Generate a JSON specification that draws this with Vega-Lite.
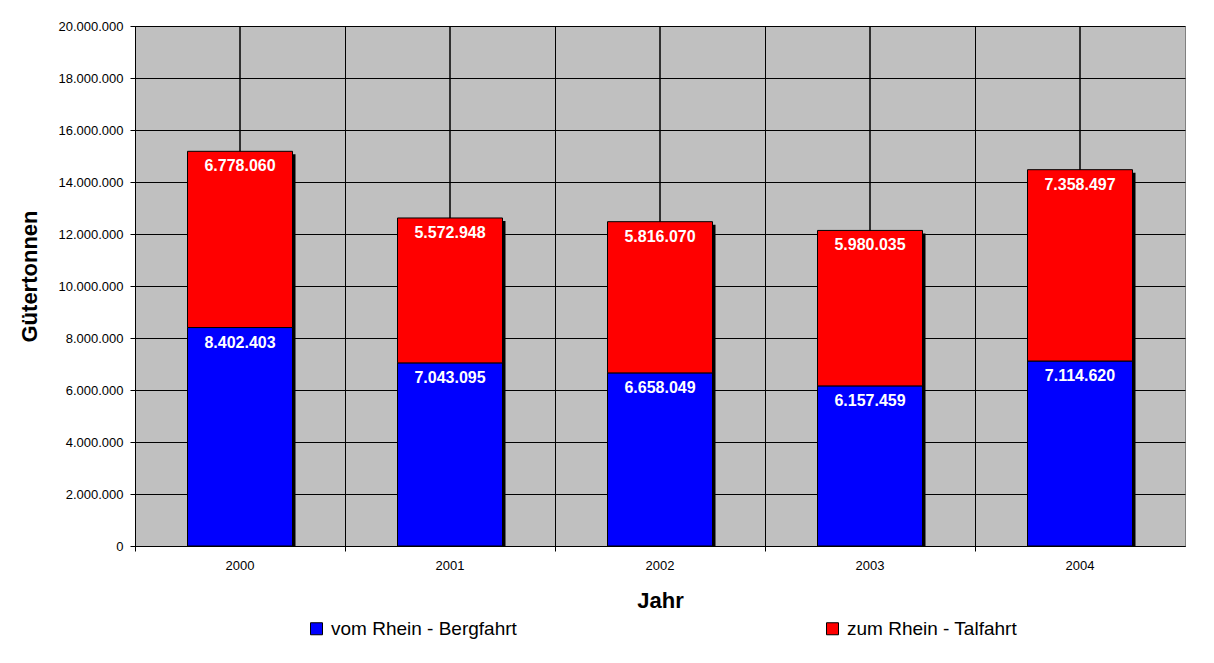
{
  "$schema": "https://vega.github.io/schema/vega-lite/v6.json",
  "width": 1050,
  "height": 520,
  "autosize": {"type": "none"},
  "padding": {"left": 135, "top": 26, "right": 29, "bottom": 117},
  "background": "#FFFFFF",
  "config": {
    "locale": {"number": {"decimal": ",", "thousands": ".", "grouping": [3], "currency": ["", " €"]}},
    "font": "Liberation Sans",
    "view": {"fill": "#C0C0C0", "stroke": "#808080", "strokeWidth": 1}
  },
  "data": {
    "values": [
      {"year": "2000", "series": "vom Rhein - Bergfahrt", "value": 8402403},
      {"year": "2000", "series": "zum Rhein - Talfahrt", "value": 6778060},
      {"year": "2001", "series": "vom Rhein - Bergfahrt", "value": 7043095},
      {"year": "2001", "series": "zum Rhein - Talfahrt", "value": 5572948},
      {"year": "2002", "series": "vom Rhein - Bergfahrt", "value": 6658049},
      {"year": "2002", "series": "zum Rhein - Talfahrt", "value": 5816070},
      {"year": "2003", "series": "vom Rhein - Bergfahrt", "value": 6157459},
      {"year": "2003", "series": "zum Rhein - Talfahrt", "value": 5980035},
      {"year": "2004", "series": "vom Rhein - Bergfahrt", "value": 7114620},
      {"year": "2004", "series": "zum Rhein - Talfahrt", "value": 7358497}
    ]
  },
  "transform": [
    {"stack": "value", "groupby": ["year"], "sort": [{"field": "series", "order": "ascending"}], "as": ["v0", "v1"]}
  ],
  "encoding": {
    "x": {
      "field": "year",
      "type": "nominal",
      "scale": {"type": "band", "paddingInner": 0, "paddingOuter": 0},
      "axis": {
        "title": "Jahr",
        "titleFont": "Liberation Sans",
        "titleFontSize": 22,
        "titleFontWeight": "bold",
        "titleColor": "#000000",
        "titleY": 54,
        "titleBaseline": "middle",
        "labelAngle": 0,
        "labelFont": "Liberation Sans",
        "labelFontSize": 13,
        "labelColor": "#000000",
        "labelPadding": 8,
        "bandPosition": 0,
        "ticks": true,
        "tickSize": 5,
        "tickColor": "#000000",
        "domainColor": "#000000",
        "grid": true,
        "gridColor": "#000000",
        "gridOpacity": 1
      }
    }
  },
  "layer": [
    {
      "mark": {"type": "rule", "color": "#000000", "strokeWidth": 1},
      "encoding": {}
    },
    {
      "transform": [{"aggregate": [{"op": "sum", "field": "value", "as": "total"}], "groupby": ["year"]}],
      "mark": {"type": "bar", "color": "#000000", "xOffset": 3, "yOffset": 3, "clip": true, "width": {"band": 0.5}},
      "encoding": {
        "y": {"field": "total", "type": "quantitative", "scale": {"domain": [0, 20000000]}}
      }
    },
    {
      "mark": {"type": "bar", "stroke": "#000000", "strokeWidth": 1, "width": {"band": 0.5}},
      "encoding": {
        "y": {
          "field": "v0",
          "type": "quantitative",
          "scale": {"domain": [0, 20000000]},
          "axis": {
            "title": "Gütertonnen",
            "titleFont": "Liberation Sans",
            "titleFontSize": 22,
            "titleFontWeight": "bold",
            "titleColor": "#000000",
            "titleX": -106,
            "titleY": 250,
            "titleBaseline": "middle",
            "values": [0, 2000000, 4000000, 6000000, 8000000, 10000000, 12000000, 14000000, 16000000, 18000000, 20000000],
            "format": ",d",
            "labelFont": "Liberation Sans",
            "labelFontSize": 13,
            "labelColor": "#000000",
            "labelPadding": 7,
            "tickSize": 5,
            "tickColor": "#000000",
            "domainColor": "#000000",
            "grid": true,
            "gridColor": "#000000",
            "gridOpacity": 1
          }
        },
        "y2": {"field": "v1"},
        "color": {
          "field": "series",
          "type": "nominal",
          "scale": {"domain": ["vom Rhein - Bergfahrt", "zum Rhein - Talfahrt"], "range": ["#0000FF", "#FF0000"]},
          "legend": {
            "title": null,
            "orient": "none",
            "direction": "horizontal",
            "legendX": 172,
            "legendY": 593,
            "padding": 0,
            "columnPadding": 306,
            "symbolType": "square",
            "symbolSize": 144,
            "symbolStrokeColor": "#000000",
            "symbolStrokeWidth": 1,
            "labelFont": "Liberation Sans",
            "labelFontSize": 19,
            "labelColor": "#000000",
            "labelOffset": 5,
            "labelLimit": 400
          }
        }
      }
    },
    {
      "mark": {"type": "text", "color": "#FFFFFF", "font": "Liberation Sans", "fontSize": 16, "fontWeight": "bold", "baseline": "middle", "dy": 15},
      "encoding": {
        "y": {"field": "v1", "type": "quantitative", "scale": {"domain": [0, 20000000]}},
        "text": {"field": "value", "type": "quantitative", "format": ",d"}
      }
    }
  ]
}
